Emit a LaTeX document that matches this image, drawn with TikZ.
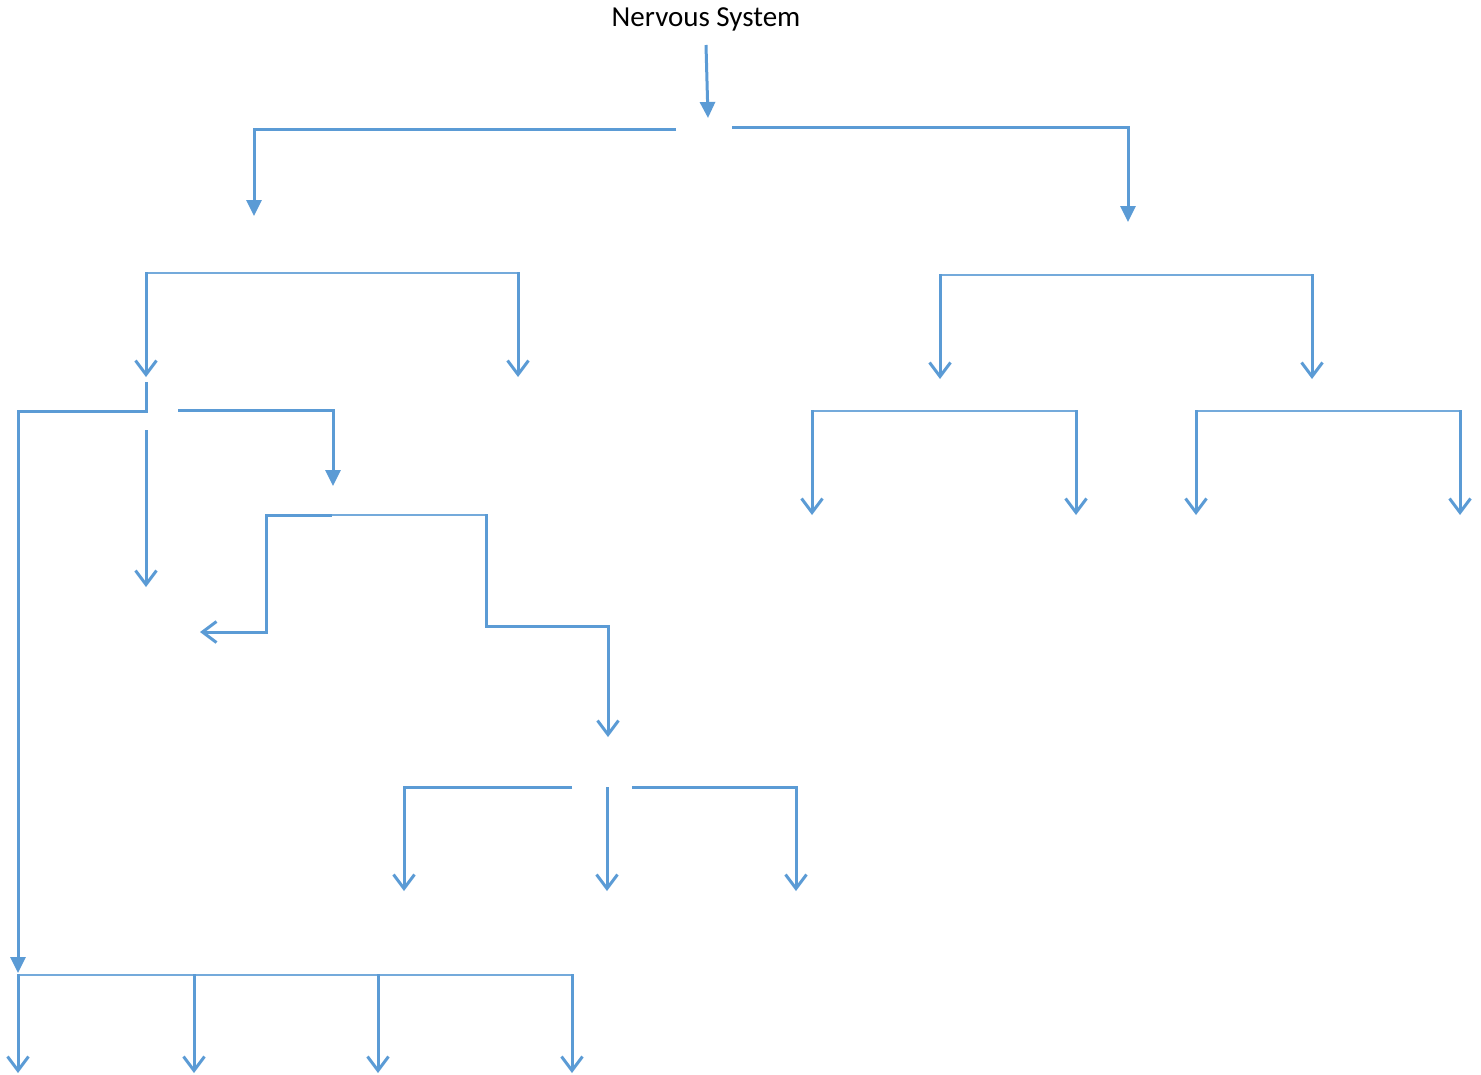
\documentclass[tikz,border=0pt]{standalone}
\usepackage{fontspec}
\setmainfont{Carlito}
\usetikzlibrary{arrows.meta}
\definecolor{wordblue}{HTML}{5B9BD5}

\begin{document}
\begin{tikzpicture}[x=1pt, y=-1pt,
                    line join=miter,
                    link/.style  = {draw = wordblue, line width = 3pt},
                    bar/.style   = {draw = wordblue!85, line width = 2pt},
                    filltip/.style = {-{Triangle[length=16pt, width=15pt]}},
                    opentip/.style = {-{Straight Barb[length=14pt, width=21pt]}},
                    title/.style = {font = \fontsize{29}{34}\selectfont, inner sep = 0pt}
                   ]
     \useasboundingbox (0,0) rectangle (1481,1074);

     \node[title] (ns) at (706,19) {Nervous System};

     % top level
     \coordinate (ns-in)  at (706,45);
     \coordinate (ns-out) at (708,118);
     \draw[link, filltip] (ns-in) -- (ns-out);

     \coordinate (l1-left)  at (676,129);
     \coordinate (l1-right) at (732,127);
     \coordinate (a)  at (254,216);
     \coordinate (b)  at (1128,222);
     \draw[link, filltip] (l1-left) -| (a);
     \draw[link, filltip] (l1-right) -| (b);

     % second level
     \coordinate (a1) at (146,377);
     \coordinate (a2) at (518,377);
     \coordinate (b1) at (940,379);
     \coordinate (b2) at (1312,379);
     \draw[bar] (146,273) -- (518,273);
     \draw[link, opentip] (146,272) -- (a1);
     \draw[link, opentip] (518,272) -- (a2);
     \draw[bar] (940,275) -- (1312,275);
     \draw[link, opentip] (940,274) -- (b1);
     \draw[link, opentip] (1312,274) -- (b2);

     % below a1
     \coordinate (a1-in)  at (146,382);
     \coordinate (c)      at (18,973);
     \draw[link, filltip] (a1-in) -- (146,411) -| (c);
     \coordinate (d)  at (333,486);
     \draw[link, filltip] (178,410) -| (d);
     \coordinate (e)  at (146,587);
     \draw[link, opentip] (146,430) -- (e);

     % below d
     \coordinate (d1) at (200,632);
     \coordinate (d2) at (608,737);
     \draw[bar] (332,515) -- (486,515);
     \draw[link, opentip] (332,515) -| (266,632) -- (d1);
     \draw[link, opentip] (486,514) |- (608,626) -- (d2);

     % below d2
     \coordinate (f1) at (404,891);
     \coordinate (f2) at (607,891);
     \coordinate (f3) at (796,891);
     \draw[link, opentip] (572,787) -| (f1);
     \draw[link, opentip] (607,787) -- (f2);
     \draw[link, opentip] (632,787) -| (f3);

     % below b1 and b2
     \foreach \xl/\xr in {812/1076, 1196/1460}{
       \draw[bar] (\xl,411) -- (\xr,411);
       \draw[link, opentip] (\xl,410) -- (\xl,515);
       \draw[link, opentip] (\xr,410) -- (\xr,515);
     }

     % below c
     \draw[bar] (18,975) -- (572,975);
     \foreach \x in {18, 194, 378, 572}
       \draw[link, opentip] (\x,974) -- (\x,1073);
\end{tikzpicture}
\end{document}
